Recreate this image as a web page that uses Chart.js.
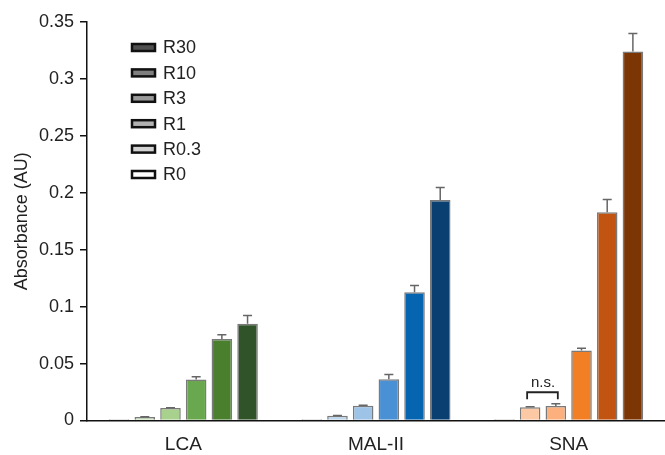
<!DOCTYPE html>
<html>
<head>
<meta charset="utf-8">
<script src="https://cdn.jsdelivr.net/npm/chart.js@4.4.0/dist/chart.umd.min.js"></script>
<style>
  html, body { margin: 0; padding: 0; background: #fff; }
  #wrap { width: 665px; height: 455px; }
</style>
</head>
<body>
<div id="wrap"><canvas id="myChart" width="665" height="455"></canvas></div>
<script>
// lectins on x, RCA concentrations as series
var categories = ["LCA", "MAL-II", "SNA"];
var series = ["R0", "R0.3", "R1", "R3", "R10", "R30"];

var lca = [0.001, 0.003, 0.011, 0.036, 0.0715, 0.085];
var mal = [0.001, 0.0042, 0.013, 0.0363, 0.1126, 0.1937];
var sna = [0.0012, 0.0116, 0.0128, 0.0615, 0.183, 0.324];

var lcaErr = [0, 0.0003, 0.0003, 0.0024, 0.0038, 0.0073];
var malErr = [0, 0.0003, 0.0003, 0.004, 0.006, 0.011];
var snaErr = [0, 0.0005, 0.002, 0.002, 0.011, 0.016];

var yTicks = [0, 0.05, 0.1, 0.15, 0.2, 0.25, 0.3, 0.35];

var lcaColors = ["#e2efd9", "#c5e0b4", "#a9d18e", "#6aa84f", "#4a7f2e", "#31532a"];
var malColors = ["#deebf7", "#bdd7ee", "#9dc3e6", "#4a90d4", "#0565b0", "#0a3f72"];
var snaColors = ["#fde5d4", "#fdc9a4", "#fbb07e", "#f27f24", "#c25411", "#7c3505"];
var legendGreys = ["#ffffff", "#d2d2d2", "#b2b2b2", "#9a9a9a", "#808080", "#505050"];

var FONT = "'Liberation Sans', Arial, sans-serif";

var datasets = series.map(function (s, i) {
  return {
    label: s,
    data: [lca[i], mal[i], sna[i]],
    err: [lcaErr[i], malErr[i], snaErr[i]],
    backgroundColor: [lcaColors[i], malColors[i], snaColors[i]],
    borderColor: i === 0 ? "#444" : "#7a7a7a",
    borderWidth: 1.5,
    barPercentage: 0.8,
    categoryPercentage: 0.8
  };
});

// error bars (upper only)
var errorBars = {
  id: "errorBars",
  afterDatasetsDraw: function (chart) {
    var ctx = chart.ctx, y = chart.scales.y;
    ctx.save();
    ctx.strokeStyle = "#666";
    ctx.lineWidth = 1.5;
    chart.data.datasets.forEach(function (ds, di) {
      var meta = chart.getDatasetMeta(di);
      meta.data.forEach(function (bar, j) {
        var e = ds.err[j];
        if (!e) return;
        var top = y.getPixelForValue(ds.data[j] + e);
        ctx.beginPath();
        ctx.moveTo(bar.x, bar.y);
        ctx.lineTo(bar.x, top);
        ctx.moveTo(bar.x - 4.5, top);
        ctx.lineTo(bar.x + 4.5, top);
        ctx.stroke();
      });
    });
    ctx.restore();
  }
};

// n.s. bracket over SNA R0.3 / R1
var nsMark = {
  id: "nsMark",
  afterDatasetsDraw: function (chart) {
    var ctx = chart.ctx, y = chart.scales.y;
    var a = chart.getDatasetMeta(1).data[2];
    var b = chart.getDatasetMeta(2).data[2];
    var yTop = y.getPixelForValue(0.0248);
    var yBot = y.getPixelForValue(0.0187);
    ctx.save();
    ctx.strokeStyle = "#222";
    ctx.lineWidth = 1.8;
    ctx.beginPath();
    ctx.moveTo(a.x - 3, yBot);
    ctx.lineTo(a.x - 3, yTop);
    ctx.lineTo(b.x + 2, yTop);
    ctx.lineTo(b.x + 2, yBot);
    ctx.stroke();
    ctx.fillStyle = "#222";
    ctx.font = "15px " + FONT;
    ctx.textAlign = "center";
    ctx.textBaseline = "alphabetic";
    ctx.fillText("n.s.", (a.x + b.x) / 2, yTop - 5);
    ctx.restore();
  }
};

// legend with grey swatches, top row = highest concentration
var greyLegend = {
  id: "greyLegend",
  afterDraw: function (chart) {
    var ctx = chart.ctx;
    ctx.save();
    ctx.font = "18px " + FONT;
    ctx.textBaseline = "middle";
    for (var k = 0; k < series.length; k++) {
      var i = series.length - 1 - k;
      var cy = 47.5 + k * 25.4;
      ctx.fillStyle = legendGreys[i];
      ctx.fillRect(132, cy - 3.5, 23, 7);
      ctx.strokeStyle = "#111";
      ctx.lineWidth = 2.5;
      ctx.strokeRect(132, cy - 3.5, 23, 7);
      ctx.fillStyle = "#222";
      ctx.fillText(series[i], 163, cy + 1);
    }
    ctx.restore();
  }
};

new Chart("myChart", {
  type: "bar",
  data: { labels: categories, datasets: datasets },
  plugins: [errorBars, nsMark, greyLegend],
  options: {
    responsive: false,
    animation: false,
    layout: { padding: { top: 22, right: -3, left: 11, bottom: 0 } },
    plugins: { legend: { display: false }, tooltip: { enabled: false } },
    scales: {
      x: {
        grid: { display: false },
        border: { display: true, color: "#111", width: 1.5 },
        ticks: { color: "#222", padding: 5, font: { family: FONT, size: 19 } },
        afterFit: function (s) { s.height = 34.5; }
      },
      y: {
        min: 0,
        max: 0.35,
        afterBuildTicks: function (s) {
          s.ticks = yTicks.map(function (v) { return { value: v }; });
        },
        grid: { drawOnChartArea: false, drawTicks: true, tickLength: 7, color: "#111", lineWidth: 1.5 },
        border: { display: true, color: "#111", width: 1.5 },
        ticks: { color: "#222", padding: 6, font: { family: FONT, size: 18 },
          callback: function (v) { return String(v); } },
        title: { display: true, text: "Absorbance (AU)", color: "#222",
          font: { family: FONT, size: 18 }, padding: { top: 0, bottom: 2 } },
        afterFit: function (s) { s.width = 76; }
      }
    }
  }
});
</script>
</body>
</html>
